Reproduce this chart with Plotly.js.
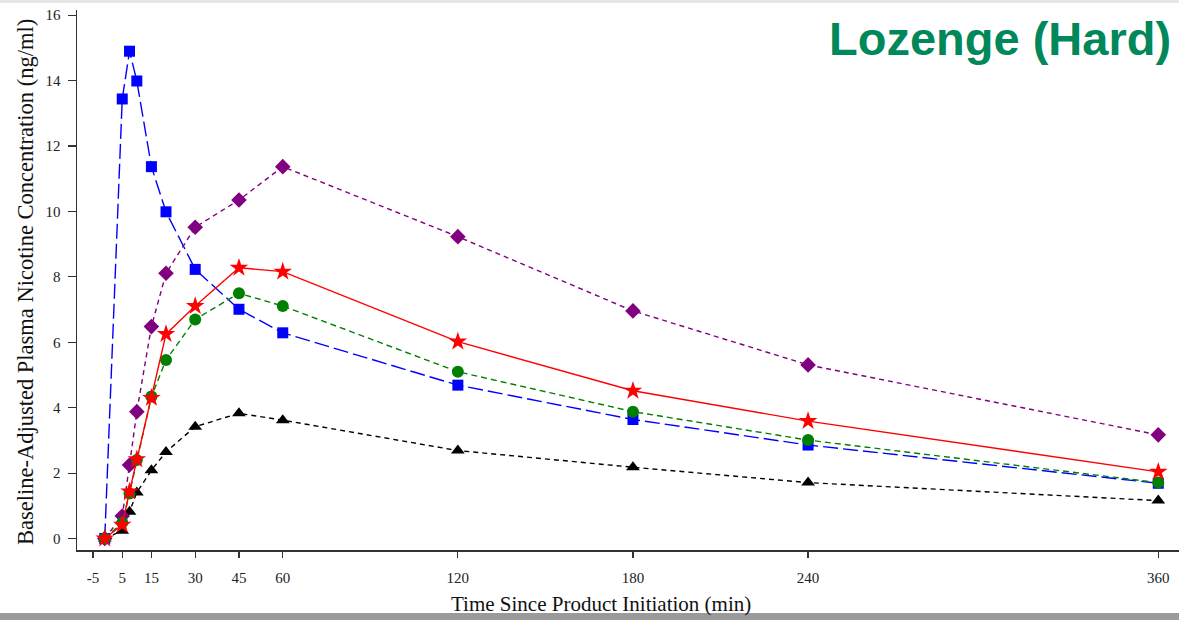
<!DOCTYPE html>
<html>
<head>
<meta charset="utf-8">
<script src="https://cdn.plot.ly/plotly-3.0.1.min.js"></script>
<style>html,body{margin:0;padding:0;background:#fff;}#chart{width:1179px;height:620px;}</style>
</head>
<body>
<div id="chart"></div>
<script>
const time = [-1, 5, 7.5, 10, 15, 20, 30, 45, 60, 120, 180, 240, 360];
const blueSquares   = [0, 13.44, 14.9, 13.99, 11.37, 9.99, 8.23, 7.01, 6.29, 4.69, 3.64, 2.86, 1.69];
const purpleDiamonds = [0, 0.69, 2.25, 3.88, 6.48, 8.11, 9.52, 10.35, 11.37, 9.23, 6.96, 5.31, 3.17];
const redStars      = [0, 0.42, 1.44, 2.42, 4.3, 6.25, 7.11, 8.28, 8.16, 6.02, 4.52, 3.59, 2.04];
const greenCircles  = [0, 0.48, 1.38, 2.4, 4.34, 5.46, 6.7, 7.5, 7.11, 5.1, 3.88, 3.01, 1.71];
const blackTriangles = [0, 0.24, 0.82, 1.41, 2.09, 2.65, 3.42, 3.83, 3.62, 2.69, 2.18, 1.71, 1.16];
const xTicks = [-5, 5, 15, 30, 45, 60, 120, 180, 240, 360];
const yTicks = [0, 2, 4, 6, 8, 10, 12, 14, 16];
const chartTitle = "Lozenge (Hard)";
const xTitle = "Time Since Product Initiation (min)";
const yTitle = "Baseline-Adjusted Plasma Nicotine Concentration (ng/ml)";

function tr(y, color, dash, symbol, size) {
  return {
    x: time, y: y, type: 'scatter', mode: 'lines+markers',
    line: {color: color, width: 1.4, dash: dash},
    marker: {color: color, symbol: symbol, size: size, line: {width: 0}},
    cliponaxis: false, showlegend: false
  };
}
const data = [
  tr(blackTriangles, '#000000', '5px,4px', 'triangle-up', 12),
  tr(blueSquares, '#0000ff', '15px,5px', 'square', 11),
  tr(purpleDiamonds, '#800080', '5px,4px', 'diamond', 12),
  tr(greenCircles, '#008000', '6px,4px', 'circle', 12),
  tr(redStars, '#ff0000', 'solid', 'star', 14)
];
const layout = {
  width: 1179, height: 620,
  margin: {l: 77, r: 0, t: 10, b: 70},
  paper_bgcolor: '#ffffff', plot_bgcolor: '#ffffff',
  font: {family: '"Liberation Serif", "Times New Roman", serif', size: 15, color: '#222'},
  xaxis: {
    range: [-10.5, 367.1], tickvals: xTicks, ticktext: xTicks.map(String),
    showgrid: false, zeroline: false, showline: true, linecolor: '#333', linewidth: 1.5,
    ticks: 'outside', ticklen: 6, tickwidth: 1.2, tickcolor: '#333',
    tickfont: {size: 15, color: '#222'}, ticklabelstandoff: 7
  },
  yaxis: {
    range: [-0.35, 16.16], tickvals: yTicks,
    showgrid: false, zeroline: false, showline: true, linecolor: '#333', linewidth: 1.5,
    ticks: 'outside', ticklen: 8, tickwidth: 1.2, tickcolor: '#333',
    tickfont: {size: 15, color: '#222'}, ticklabelstandoff: 4
  },
  annotations: [
    {text: '<b>' + chartTitle + '</b>', xref: 'paper', yref: 'paper', x: 1, xanchor: 'right', xshift: -6,
     y: 1 + 10/540, yanchor: 'top', yshift: -10, showarrow: false,
     font: {family: '"Liberation Sans", Arial, sans-serif', size: 47, color: '#00875A'}},
    {text: xTitle, xref: 'paper', yref: 'paper', x: (601 - 77) / 1102, xanchor: 'center',
     y: -(604 - 550) / 540, yanchor: 'middle', showarrow: false,
     font: {family: '"Liberation Serif", "Times New Roman", serif', size: 21, color: '#111'}},
    {text: yTitle, xref: 'paper', yref: 'paper', x: -(77 - 25) / 1102, xanchor: 'center',
     y: (550 - 282) / 540, yanchor: 'middle', textangle: -90, showarrow: false,
     font: {family: '"Liberation Serif", "Times New Roman", serif', size: 22.5, color: '#111'}}
  ],
  shapes: [
    {type: 'rect', xref: 'paper', yref: 'paper', x0: -77/1102, x1: 1, y0: 1 + 7/540, y1: 1 + 10/540,
     fillcolor: '#e6e6e6', line: {width: 0}, layer: 'below'},
    {type: 'rect', xref: 'paper', yref: 'paper', x0: -77/1102, x1: 1, y0: -70/540, y1: -63/540,
     fillcolor: '#9a9a9a', line: {width: 0}, layer: 'below'}
  ]
};
Plotly.newPlot('chart', data, layout, {displayModeBar: false, staticPlot: true});
</script>
</body>
</html>
